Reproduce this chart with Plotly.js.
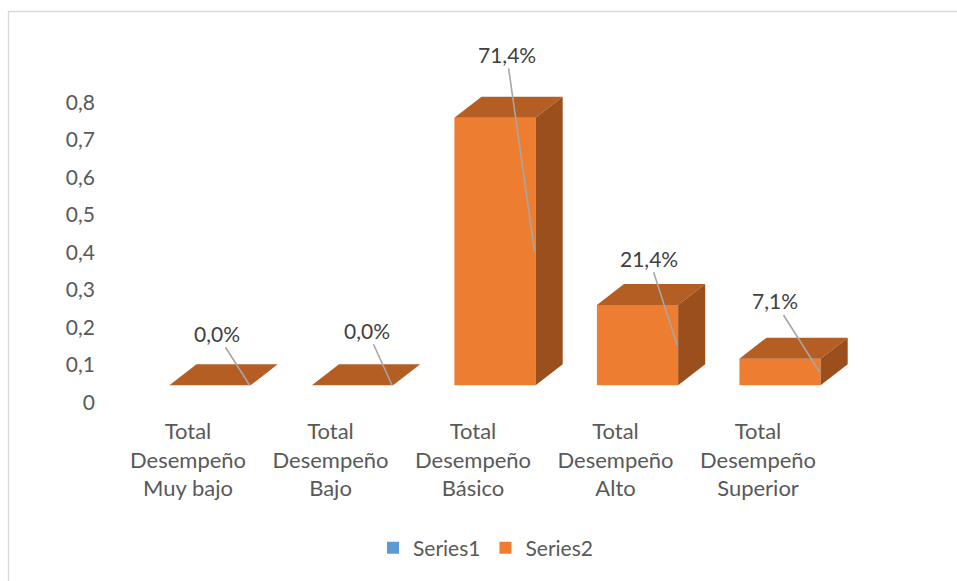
<!DOCTYPE html>
<html>
<head>
<meta charset="utf-8">
<script src="https://cdn.plot.ly/plotly-3.0.1.min.js"></script>
<style>html,body{margin:0;padding:0;background:#fff;}#chart{width:957px;height:581px;}</style>
</head>
<body>
<div id="chart"></div>
<script>
// ---- data ----
var categories = ['Total Desempeño Muy bajo', 'Total Desempeño Bajo', 'Total Desempeño Básico', 'Total Desempeño Alto', 'Total Desempeño Superior'];
var categoryLabels = ['Total<br>Desempeño<br>Muy bajo', 'Total<br>Desempeño<br>Bajo', 'Total<br>Desempeño<br>Básico', 'Total<br>Desempeño<br>Alto', 'Total<br>Desempeño<br>Superior'];
var series1 = [0, 0, 0, 0, 0];
var series2 = [0.0, 0.0, 0.714, 0.214, 0.071];
var yTickVals = [0, 0.1, 0.2, 0.3, 0.4, 0.5, 0.6, 0.7, 0.8];
var yTickText = ['0', '0,1', '0,2', '0,3', '0,4', '0,5', '0,6', '0,7', '0,8'];
// label offsets (styling)
var labelAx = [-33, -25, -28, -28, -45];
var labelAy = [-52, -55, -197, -87, -71];

// ---- geometry / style ----
var W = 957, H = 581;
var M = {l: 100, r: 57, t: 48, b: 177};
var xRange = [-0.772, 4.842];
var yRange = [-0.05, 0.9];
var barW = 0.57;      // category units
var DX = 0.19;        // depth offset (category units)
var DY = 0.056;       // depth offset (value units)
var cFront = '#ED7D31', cTop = '#B55E24', cSide = '#9B4F1D';
var fontFam = 'Lato, "Open Sans", sans-serif';

var xs = categories.map(function (_, i) { return i; });
var traces = [];

traces.push({
  type: 'bar', name: 'Series1', x: xs, y: series1, width: barW,
  marker: {color: '#5B9BD5', line: {width: 0}}, hoverinfo: 'skip'
});
traces.push({
  type: 'bar', name: 'Series2', x: xs, y: series2, width: barW,
  marker: {color: cFront, line: {width: 0}}, hoverinfo: 'skip'
});

series2.forEach(function (v, i) {
  var xl = i - barW / 2, xr = i + barW / 2;
  // top face
  traces.push({
    type: 'scatter', mode: 'lines', showlegend: false, hoverinfo: 'skip',
    x: [xl, xr, xr + DX, xl + DX, xl], y: [v, v, v + DY, v + DY, v],
    fill: 'toself', fillcolor: cTop, line: {width: 0, color: cTop}
  });
  // side face
  if (v > 0) {
    traces.push({
      type: 'scatter', mode: 'lines', showlegend: false, hoverinfo: 'skip',
      x: [xr, xr, xr + DX, xr + DX, xr], y: [0, v, v + DY, DY, 0],
      fill: 'toself', fillcolor: cSide, line: {width: 0, color: cSide}
    });
  }
});

var pxPerCat = (W - M.l - M.r) / (xRange[1] - xRange[0]);
var annotations = series2.map(function (v, i) {
  return {
    x: i, y: v / 2, xref: 'x', yref: 'y',
    xshift: barW / 2 * pxPerCat - 1,
    text: (v * 100).toFixed(1).replace('.', ',') + '%',
    showarrow: true, arrowhead: 0, arrowwidth: 1.6, arrowcolor: '#A6A6A6',
    ax: labelAx[i], ay: labelAy[i], standoff: 0,
    font: {family: fontFam, size: 21, color: '#404040'}
  };
});

var plotW = W - M.l - M.r, plotH = H - M.t - M.b;
function px2paperX(px) { return (px - M.l) / plotW; }
function px2paperY(py) { return (H - M.b - py) / plotH; }

var layout = {
  width: W, height: H,
  margin: M,
  paper_bgcolor: '#ffffff', plot_bgcolor: 'rgba(0,0,0,0)',
  barmode: 'overlay',
  showlegend: true,
  font: {family: fontFam, color: '#595959', size: 21},
  xaxis: {
    range: xRange, tickvals: xs, ticktext: categoryLabels,
    showgrid: false, zeroline: false, showline: false, ticks: '',
    ticklabelshift: -22, ticklabelstandoff: 12,
    tickfont: {family: fontFam, size: 22, color: '#595959'},
    fixedrange: true
  },
  yaxis: {
    range: yRange, tickvals: yTickVals, ticktext: yTickText,
    showgrid: false, zeroline: false, showline: false, ticks: '',
    ticklabelshift: 17, ticklabelstandoff: 4,
    tickfont: {family: fontFam, size: 21, color: '#595959'},
    fixedrange: true
  },
  legend: {
    orientation: 'h', x: 0.5 + 7 / W, xanchor: 'center', xref: 'container',
    y: 1 - 548 / H, yanchor: 'middle', yref: 'container',
    font: {family: fontFam, size: 21, color: '#595959'},
    itemwidth: 30, traceorder: 'normal'
  },
  annotations: annotations,
  shapes: [{
    type: 'rect', xref: 'paper', yref: 'paper',
    x0: px2paperX(8.5), x1: px2paperX(990), y0: px2paperY(11.5), y1: px2paperY(620),
    line: {color: '#D9D9D9', width: 1.3}, fillcolor: 'rgba(0,0,0,0)', layer: 'below'
  }]
};

Plotly.newPlot('chart', traces, layout, {displayModeBar: false, staticPlot: true});
</script>
</body>
</html>
